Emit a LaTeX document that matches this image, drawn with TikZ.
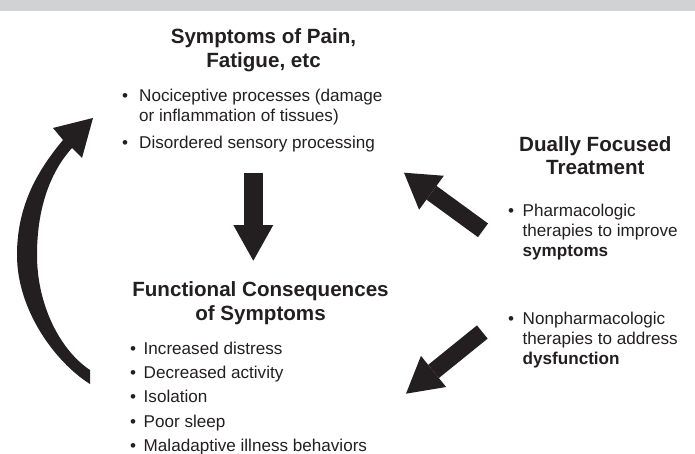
\documentclass[tikz,border=0pt]{standalone}
\usepackage{fontspec}
\setmainfont{Liberation Sans}
\usetikzlibrary{arrows.meta}
\definecolor{ink}{HTML}{231F20}
\definecolor{barg}{HTML}{D1D2D4}
\tikzset{
  ttl/.style={anchor=base, inner sep=0pt, text=ink, font=\bfseries\fontsize{20.6}{24}\selectfont},
  txt/.style={anchor=base west, inner sep=0pt, text=ink, font=\fontsize{17.1}{20}\selectfont},
  bul/.style={anchor=base, inner sep=0pt, text=ink, font=\fontsize{17.1}{20}\selectfont},
  blockarrow/.style={draw=ink, line cap=butt},
}
\begin{document}
\begin{tikzpicture}[x=1pt,y=-1pt]
\useasboundingbox (0,0) rectangle (695,454);
\fill[barg] (0,0) rectangle (695,11);

% Symptoms block
\node[ttl] (t1a) at (263.5,44) {Symptoms of Pain,};
\node[ttl] (t1b) at (263.5,68) {Fatigue, etc};
\node[bul] (b1a) at (125,101.5) {•};
\node[txt] (s1a) at (139,101.5) {Nociceptive processes (damage};
\node[txt] (s1b) at (139,122) {or inflammation of tissues)};
\node[bul] (b1b) at (125,149) {•};
\node[txt] (s1c) at (139,149) {Disordered sensory processing};

% Functional consequences block
\node[ttl] (t2a) at (260.5,296) {Functional Consequences};
\node[ttl] (t2b) at (260.5,320) {of Symptoms};
\node[bul] (b2a) at (133,354) {•};
\node[txt] (f1) at (143.5,354) {Increased distress};
\node[bul] (b2b) at (133,378.4) {•};
\node[txt] (f2) at (143.5,378.4) {Decreased activity};
\node[bul] (b2c) at (133,402.8) {•};
\node[txt] (f3) at (143.5,402.8) {Isolation};
\node[bul] (b2d) at (133,427.2) {•};
\node[txt] (f4) at (143.5,427.2) {Poor sleep};
\node[bul] (b2e) at (133,451.6) {•};
\node[txt] (f5) at (143.5,451.6) {Maladaptive illness behaviors};

% Treatment block
\node[ttl] (t3a) at (595.3,151.4) {Dually Focused};
\node[ttl] (t3b) at (595.3,174.7) {Treatment};
\node[bul] (b3a) at (511,216.5) {•};
\node[txt] (r1a) at (522.5,216.5) {Pharmacologic};
\node[txt] (r1b) at (522.5,236.5) {therapies to improve};
\node[txt] (r1c) at (522.5,256.5) {\bfseries symptoms};
\node[bul] (b3b) at (511,324) {•};
\node[txt] (r2a) at (522.5,324) {Nonpharmacologic};
\node[txt] (r2b) at (522.5,344) {therapies to address};
\node[txt] (r2c) at (522.5,364) {\bfseries dysfunction};

% straight block arrows
\coordinate (da1) at (253.3,172.7);
\coordinate (da2) at (253.3,260.7);
\draw[blockarrow, line width=19.5pt, -{Triangle[length=35.7pt,width=40pt,line width=0pt]}] (da1) -- (da2);

\coordinate (ua1) at (483,230.3);
\coordinate (ua2) at (404,172.7);
\draw[blockarrow, line width=17pt, -{Triangle[length=34pt,width=42pt,line width=0pt]}] (ua1) -- (ua2);

\coordinate (la1) at (482.3,332);
\coordinate (la2) at (406,393.7);
\draw[blockarrow, line width=17pt, -{Triangle[length=35.4pt,width=40pt,line width=0pt]}] (la1) -- (la2);

% curved feedback arrow
\coordinate (ctailb) at (90,384);
\coordinate (ctailt) at (90,370);
\coordinate (cout) at (17,255);
\coordinate (cin) at (37,255);
\coordinate (cno) at (63,140);
\coordinate (cni) at (72,148);
\coordinate (chl) at (53,128);
\coordinate (ctip) at (93,118);
\coordinate (chr) at (82,158);
\fill[ink] (ctailb) .. controls (55,362) and (17,310) .. (cout)
  .. controls (17,205) and (38,170) .. (cno)
  -- (chl) -- (ctip) -- (chr) -- (cni)
  .. controls (52,170) and (37,205) .. (cin)
  .. controls (37,305) and (60,350) .. (ctailt) -- cycle;
\end{tikzpicture}
\end{document}
